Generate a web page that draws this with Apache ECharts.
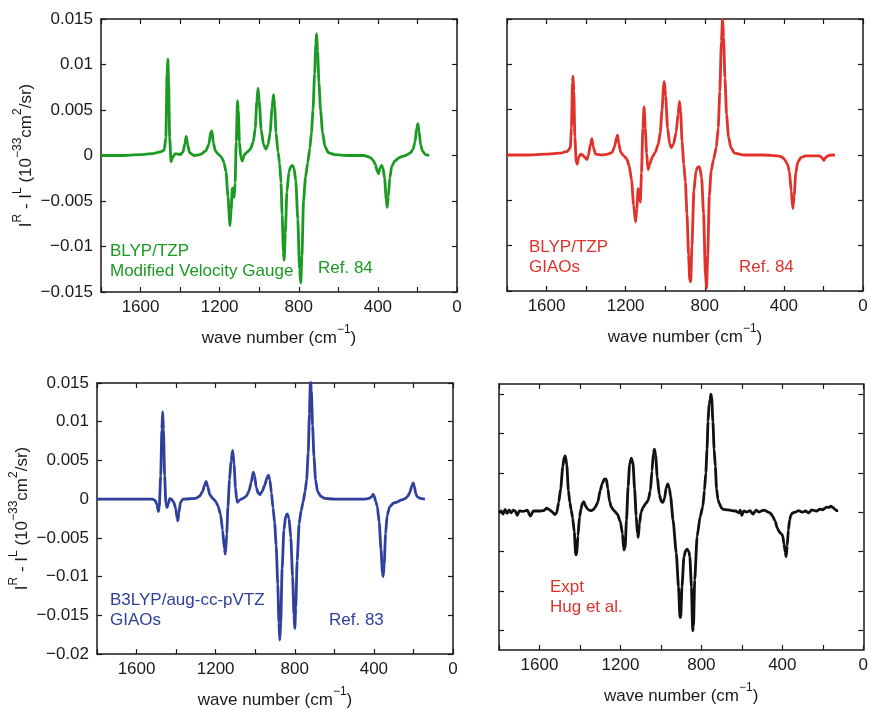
<!DOCTYPE html>
<html>
<head>
<meta charset="utf-8">
<script src="https://cdn.jsdelivr.net/npm/echarts@6/dist/echarts.min.js"></script>
<style>
  html, body { margin: 0; padding: 0; background: #fff; }
  #chart { width: 871px; height: 710px; }
</style>
</head>
<body>
<div id="chart"></div>
<script>
// VCD-type spectra: I^R - I^L against wave number, four computed / measured curves.

// x-axis ticks (cm^-1), labelled every 400
const waveTicks = [0, 200, 400, 600, 800, 1000, 1200, 1400, 1600, 1800];
const labelledWaves = [0, 400, 800, 1200, 1600];

// BLYP/TZP, modified velocity gauge  [wave number, I^R - I^L]
const blypMvg = [
  [1800,0],[1700,0],[1600,0.0001],[1540,0.0002],[1500,0.0004],[1480,0.0006],[1472,0.002],[1466,0.009],
  [1462,0.0106],[1458,0.008],[1453,0.002],[1446,-0.0007],[1438,-0.0002],[1425,0.0002],[1400,0.0001],
  [1385,0.0004],[1376,0.0013],[1369,0.0021],[1362,0.0012],[1352,0.0003],[1330,0],[1300,0.0001],
  [1270,0.0005],[1255,0.0012],[1245,0.0026],[1239,0.0027],[1232,0.0014],[1222,0.0005],[1205,0.0001],
  [1190,-0.0002],[1178,-0.0008],[1168,-0.0018],[1158,-0.0045],[1148,-0.0077],[1142,-0.006],
  [1136,-0.0036],[1131,-0.004],[1127,-0.0046],[1122,-0.003],[1116,0.0015],[1110,0.006],[1106,0.005],
  [1100,0.0015],[1093,-0.0002],[1086,-0.0006],[1075,0.0001],[1060,0.0004],[1045,0.0007],[1030,0.0015],
  [1020,0.003],[1012,0.006],[1006,0.0074],[1000,0.006],[990,0.0028],[978,0.0012],[967,0.0007],
  [955,0.0012],[945,0.0025],[935,0.0052],[928,0.0067],[922,0.0055],[915,0.0025],[905,0.0004],
  [897,-0.0008],[890,-0.003],[884,-0.0065],[878,-0.0105],[874,-0.0115],[868,-0.0085],[860,-0.004],
  [850,-0.0018],[840,-0.0012],[832,-0.0011],[824,-0.0014],[815,-0.0028],[805,-0.007],[796,-0.0125],
  [790,-0.014],[784,-0.011],[776,-0.005],[766,-0.0024],[755,-0.0008],[744,0.0008],[736,0.0025],
  [728,0.005],[720,0.009],[714,0.0122],[710,0.0134],[705,0.0115],[698,0.008],[690,0.005],[680,0.0026],
  [668,0.001],[650,0.0003],[620,0.0001],[550,0],[470,0],[440,-0.0002],[425,-0.0005],[412,-0.001],
  [404,-0.0017],[397,-0.002],[390,-0.0014],[381,-0.0011],[374,-0.0014],[366,-0.0025],[358,-0.0048],
  [353,-0.0057],[347,-0.0045],[340,-0.0025],[330,-0.0012],[315,-0.0006],[290,-0.0002],[260,0],
  [235,0.0003],[222,0.0007],[212,0.0015],[204,0.003],[198,0.0035],[192,0.0027],[184,0.0012],
  [175,0.0005],[160,0.0001],[140,0]
];

// BLYP/TZP, GIAOs
const blypGiao = [
  [1800,0],[1700,0],[1600,0.0001],[1530,0.0002],[1495,0.0004],[1480,0.0008],[1474,0.003],[1469,0.008],
  [1466,0.0087],[1462,0.007],[1457,0.002],[1450,-0.0008],[1445,-0.001],[1438,-0.0003],[1428,0.0001],
  [1418,0],[1405,-0.0003],[1396,-0.0005],[1388,0],[1378,0.0012],[1371,0.0018],[1364,0.0009],
  [1352,0.0001],[1320,0],[1290,0.0001],[1268,0.0003],[1255,0.001],[1246,0.0019],[1241,0.0022],
  [1235,0.0013],[1225,0.0003],[1210,-0.0001],[1195,-0.0004],[1182,-0.0012],[1170,-0.0028],
  [1160,-0.0055],[1150,-0.0074],[1144,-0.006],[1137,-0.0037],[1131,-0.0042],[1126,-0.0052],
  [1120,-0.002],[1113,0.003],[1107,0.0053],[1101,0.003],[1094,0.0002],[1087,-0.0016],[1078,-0.001],
  [1065,-0.0002],[1050,0.0003],[1035,0.0012],[1025,0.0025],[1016,0.005],[1008,0.0078],[1004,0.0081],
  [998,0.0065],[988,0.003],[978,0.0013],[970,0.0008],[958,0.0012],[945,0.0025],[935,0.0045],
  [928,0.0059],[922,0.0048],[915,0.0015],[906,-0.001],[898,-0.003],[890,-0.0065],[882,-0.011],
  [876,-0.0138],[871,-0.014],[865,-0.01],[855,-0.004],[845,-0.0018],[835,-0.0013],[826,-0.0013],
  [816,-0.0025],[806,-0.0065],[797,-0.013],[791,-0.0147],[785,-0.011],[777,-0.0045],[768,-0.0018],
  [756,-0.0005],[742,0.0008],[732,0.003],[724,0.007],[716,0.0125],[710,0.015],[705,0.013],
  [698,0.0085],[690,0.0045],[680,0.002],[668,0.0008],[650,0.0002],[600,0],[500,0],[430,-0.0001],
  [410,-0.0002],[396,-0.0005],[382,-0.001],[372,-0.0018],[363,-0.004],[355,-0.0059],[348,-0.0045],
  [340,-0.002],[330,-0.0008],[315,-0.0003],[290,-0.0001],[220,-0.0001],[208,-0.0003],[198,-0.0006],
  [190,-0.0003],[178,-0.0001],[160,0],[142,0]
];

// B3LYP/aug-cc-pVTZ, GIAOs
const b3lypGiao = [
  [1800,0],[1600,0],[1520,0],[1505,-0.0002],[1497,-0.0007],[1490,-0.0016],[1485,-0.001],[1478,0.003],
  [1472,0.009],[1468,0.0113],[1464,0.009],[1458,0.003],[1452,-0.0005],[1446,-0.0011],[1440,-0.0006],
  [1432,0.0001],[1424,0],[1412,-0.0004],[1402,-0.0012],[1395,-0.0025],[1391,-0.0028],[1386,-0.0018],
  [1378,-0.0004],[1365,0],[1300,0.0001],[1280,0.0004],[1266,0.001],[1256,0.0018],[1248,0.0023],
  [1240,0.0016],[1230,0.0006],[1215,0.0001],[1200,-0.0003],[1188,-0.0009],[1175,-0.002],[1165,-0.004],
  [1156,-0.0064],[1151,-0.0071],[1144,-0.0045],[1138,-0.001],[1130,0.0025],[1122,0.005],[1114,0.0063],
  [1107,0.0045],[1100,0.0015],[1094,0],[1090,-0.0004],[1078,-0.0001],[1062,0.0001],[1045,0.0004],
  [1032,0.001],[1020,0.0022],[1010,0.0035],[1003,0.003],[995,0.0015],[985,0.0008],[976,0.0006],
  [965,0.001],[952,0.0018],[940,0.0028],[933,0.0031],[926,0.0025],[918,0.0008],[910,-0.0011],
  [902,-0.003],[894,-0.006],[886,-0.011],[880,-0.016],[876,-0.0182],[871,-0.016],[864,-0.009],
  [855,-0.004],[846,-0.0022],[838,-0.0019],[829,-0.0025],[820,-0.005],[811,-0.01],[804,-0.015],
  [800,-0.0167],[795,-0.014],[788,-0.008],[778,-0.0032],[768,-0.0015],[758,-0.0004],[748,0.001],
  [740,0.0025],[732,0.006],[726,0.011],[721,0.0154],[716,0.014],[710,0.0095],[703,0.0055],
  [695,0.0025],[685,0.001],[670,0.0004],[650,0.0001],[600,0],[450,0],[425,0.0001],[412,0.0003],
  [404,0.0006],[398,0.0004],[391,-0.0003],[383,-0.0009],[373,-0.003],[364,-0.0065],[357,-0.0095],
  [353,-0.01],[348,-0.0085],[341,-0.0045],[333,-0.0021],[320,-0.001],[300,-0.0005],[285,-0.0004],
  [260,-0.0001],[240,0.0001],[228,0.0004],[218,0.0009],[208,0.0017],[201,0.0021],[195,0.0016],
  [188,0.0007],[181,0.0003],[165,0.0001],[142,0]
];

// Experiment (Hug et al.), relative units; tick marks at whole units
const exptTicks = [-3, -2, -1, 0, 1, 2, 3];
const exptHug = [
  [1800,-0.02],[1790,0.03],[1780,-0.05],[1770,0.07],[1760,-0.03],[1750,0.06],[1740,-0.02],[1730,0.05],
  [1720,0.03],[1710,-0.08],[1700,0.03],[1680,0.02],[1660,0.05],[1645,-0.1],[1630,0.03],[1600,0.03],
  [1580,0.04],[1565,0.1],[1555,0.08],[1540,0.02],[1525,-0.06],[1515,-0.02],[1505,0.25],[1495,0.6],
  [1485,1.15],[1478,1.4],[1472,1.43],[1465,1.2],[1457,0.55],[1450,0.25],[1443,0.05],[1436,-0.15],
  [1428,-0.5],[1421,-1.08],[1416,-1.08],[1410,-0.6],[1402,-0.12],[1395,0.08],[1388,0.22],[1381,0.27],
  [1372,0.15],[1362,0.08],[1355,0.05],[1345,0.04],[1335,0.06],[1325,0.12],[1312,0.25],[1300,0.55],
  [1290,0.72],[1280,0.84],[1270,0.84],[1262,0.6],[1254,0.28],[1244,0.12],[1230,0.03],[1215,-0.05],
  [1200,-0.25],[1190,-0.55],[1183,-0.96],[1177,-0.9],[1170,-0.2],[1162,0.65],[1155,1.2],[1146,1.37],
  [1138,1.25],[1130,0.6],[1122,-0.1],[1116,-0.55],[1112,-0.64],[1106,-0.3],[1098,0],[1088,0.12],
  [1075,0.22],[1063,0.3],[1052,0.55],[1044,1.05],[1037,1.5],[1032,1.6],[1026,1.45],[1018,0.9],
  [1008,0.45],[998,0.27],[990,0.25],[982,0.35],[974,0.62],[966,0.72],[958,0.6],[952,0.4],[940,-0.2],
  [924,-1.04],[913,-1.9],[906,-2.67],[902,-2.67],[896,-1.9],[886,-1.13],[878,-0.98],[870,-0.94],
  [862,-1.0],[857,-1.13],[849,-1.9],[843,-3.01],[839,-2.9],[833,-1.72],[821,-0.62],[806,-0.11],
  [793,0.14],[785,0.55],[778,1.0],[772,1.6],[767,2.3],[762,2.75],[757,2.85],[753,3.0],[749,2.92],
  [743,2.3],[737,1.6],[731,1.16],[725,0.6],[718,0.32],[712,0.23],[700,0.1],[690,0.07],[671,0.06],
  [650,0.04],[630,0.03],[615,-0.02],[608,0.05],[600,-0.08],[590,0.03],[575,0],[560,0.04],[545,-0.05],
  [530,0.05],[515,0],[500,0.04],[490,0.05],[480,0.03],[470,0],[460,-0.02],[448,-0.1],[436,-0.22],
  [425,-0.4],[415,-0.5],[405,-0.55],[398,-0.6],[392,-0.8],[386,-1.0],[381,-1.13],[376,-0.85],
  [370,-0.45],[364,-0.2],[358,-0.08],[350,-0.02],[336,0],[320,0.04],[300,0],[285,0.03],[270,-0.02],
  [255,0.06],[240,0.04],[229,0.03],[215,0.08],[200,0.06],[190,0.1],[180,0.13],[170,0.12],[160,0.15],
  [150,0.12],[140,0.07],[130,0.04],[124,0.04]
];

const FONT = '"Liberation Sans", Arial, Helvetica, sans-serif';
const INK = '#1a1a1a';
const GREEN = '#1b9a22';
const RED = '#e0322b';
const BLUE = '#2f3f9c';
const BLACK = '#111111';
const TEXT_SIZE = 17;

const panels = [
  { grid: { left: 101, top: 19, width: 356, height: 273 }, yMin: -0.015, yMax: 0.015, yLabels: true, data: blypMvg, color: GREEN },
  { grid: { left: 507, top: 19, width: 356, height: 272 }, yMin: -0.015, yMax: 0.015, yLabels: false, data: blypGiao, color: RED },
  { grid: { left: 97, top: 383, width: 356, height: 273 }, yMin: -0.02, yMax: 0.015, yLabels: true, data: b3lypGiao, color: BLUE },
  { grid: { left: 499, top: 384, width: 368, height: 266 }, yMin: -3.5, yMax: 3.255, yLabels: false, custom: exptTicks, data: exptHug, color: BLACK }
];

const frameLine = { show: true, onZero: false, lineStyle: { color: INK, width: 1.5 } };
const yName = '{n|I}{s|R}{n| - I}{s|L}{n| (10}{s|\u221233}{n|cm}{s|2}{n|/sr)}';
const xName = '{n|wave number (cm}{s|\u22121}{n|)}';
const nameRich = {
  n: { fontSize: TEXT_SIZE, fontFamily: FONT, color: INK, lineHeight: 23, verticalAlign: 'bottom' },
  s: { fontSize: 12, fontFamily: FONT, color: INK, lineHeight: 23, verticalAlign: 'top' }
};

function fmtY(v) {
  const s = String(parseFloat(v.toFixed(4)));
  return s.replace('-', '\u2212');
}

const grids = [], xAxes = [], yAxes = [], series = [];
panels.forEach((p, i) => {
  grids.push(Object.assign({ containLabel: false }, p.grid));
  const xBase = {
    type: 'value', gridIndex: i, min: 0, max: 1800, interval: 200, inverse: true,
    axisLine: frameLine, splitLine: { show: false },
    axisTick: { show: true, inside: true, length: 5, lineStyle: { color: INK, width: 1.2 } }
  };
  xAxes.push(Object.assign({}, xBase, {
    position: 'bottom',
    axisLabel: {
      show: true, margin: 7, color: INK, fontSize: TEXT_SIZE, fontFamily: FONT,
      formatter: v => (labelledWaves.indexOf(v) >= 0 ? String(v) : '')
    },
    name: xName, nameLocation: 'middle', nameGap: 32,
    nameTextStyle: { rich: nameRich }
  }));
  xAxes.push(Object.assign({}, xBase, { position: 'top', axisLabel: { show: false } }));

  const tick = { show: true, inside: true, length: 5, lineStyle: { color: INK, width: 1.2 } };
  if (p.custom) tick.customValues = p.custom;
  const yBase = {
    type: 'value', gridIndex: i, min: p.yMin, max: p.yMax,
    axisLine: frameLine, splitLine: { show: false }, axisTick: tick
  };
  if (!p.custom) yBase.interval = 0.005;
  const yLeft = Object.assign({}, yBase, {
    position: 'left',
    axisLabel: { show: p.yLabels, margin: 8, color: INK, fontSize: TEXT_SIZE, fontFamily: FONT, formatter: fmtY }
  });
  if (p.yLabels) {
    Object.assign(yLeft, {
      name: yName, nameLocation: 'middle', nameRotate: 90, nameGap: 66,
      nameTextStyle: { rich: nameRich }
    });
  }
  yAxes.push(yLeft);
  yAxes.push(Object.assign({}, yBase, { position: 'right', axisLabel: { show: false } }));

  series.push({
    type: 'line', xAxisIndex: 2 * i, yAxisIndex: 2 * i, data: p.data,
    showSymbol: false, symbol: 'none', smooth: 0.2, smoothMonotone: 'x',
    lineStyle: { color: p.color, width: 2.8 }, clip: true, silent: true, animation: false
  });
});

function note(x, y, text, color) {
  return { type: 'text', left: x, top: y, silent: true,
    style: { text: text, fill: color, font: TEXT_SIZE + 'px ' + FONT, lineHeight: 20 } };
}

const chart = echarts.init(document.getElementById('chart'), null, { renderer: 'canvas' });
chart.setOption({
  animation: false,
  backgroundColor: '#ffffff',
  grid: grids,
  xAxis: xAxes,
  yAxis: yAxes,
  series: series,
  graphic: [
    note(110, 241, 'BLYP/TZP\nModified Velocity Gauge', GREEN),
    note(318, 258, 'Ref. 84', GREEN),
    note(529, 237, 'BLYP/TZP\nGIAOs', RED),
    note(739, 257, 'Ref. 84', RED),
    note(110, 590, 'B3LYP/aug-cc-pVTZ\nGIAOs', BLUE),
    note(329, 610, 'Ref. 83', BLUE),
    note(550, 577, 'Expt\nHug et al.', RED)
  ]
});
</script>
</body>
</html>
